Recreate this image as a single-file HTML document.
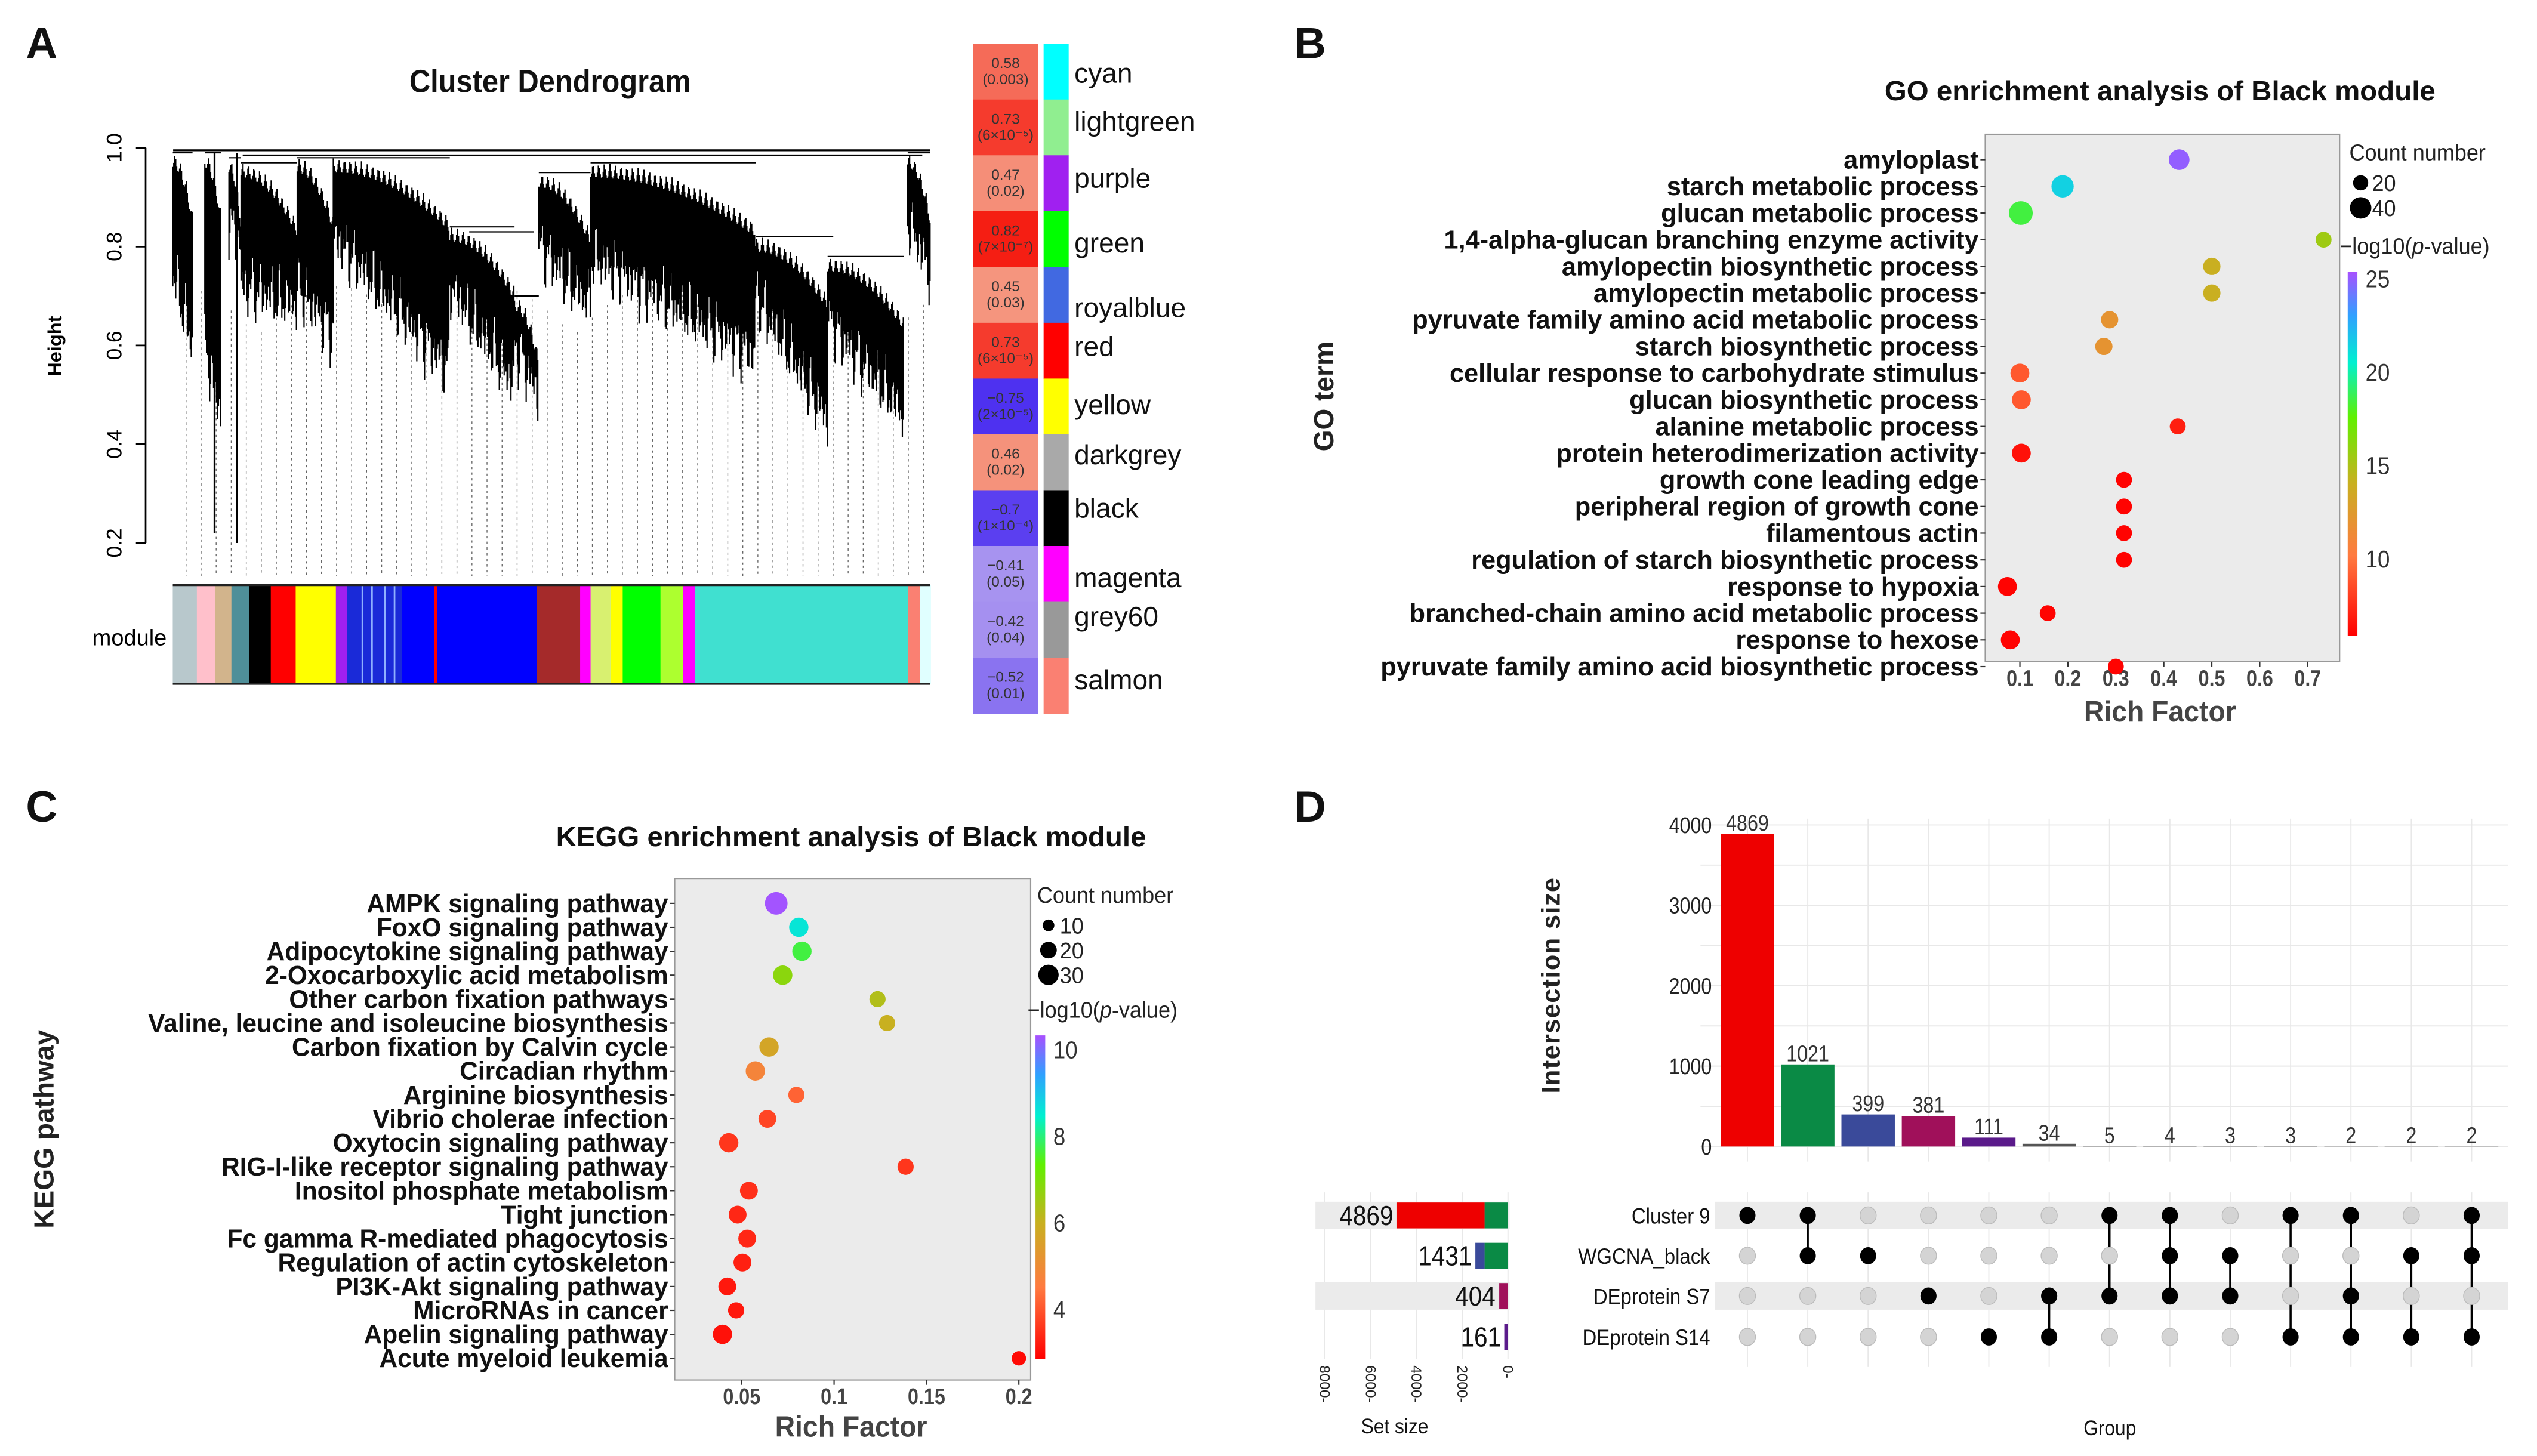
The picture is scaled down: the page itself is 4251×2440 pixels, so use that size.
<!DOCTYPE html>
<html><head><meta charset="utf-8"><title>Figure</title>
<style>
html,body{margin:0;padding:0;background:#fff;}
svg{display:block;font-family:"Liberation Sans",Arial,sans-serif;}
</style></head>
<body>
<svg id="fig" xmlns="http://www.w3.org/2000/svg" width="4251" height="2440" viewBox="0 0 1568 900" preserveAspectRatio="none">
  <defs>
    <linearGradient id="goGrad" x1="0" y1="1" x2="0" y2="0">
      <stop offset="0" stop-color="#ff0000"/><stop offset="0.22" stop-color="#ff7a40"/><stop offset="0.42" stop-color="#c8b020"/><stop offset="0.6" stop-color="#60f000"/><stop offset="0.75" stop-color="#00f0d0"/><stop offset="0.88" stop-color="#30a0ff"/><stop offset="1" stop-color="#a850ff"/>
    </linearGradient>
  </defs>
  <g id="panelA"></g>
  <g id="panelB"></g>
  <g id="panelC"></g>
  <g id="panelD"></g>
</svg>
<script>
// ---------- DATA ----------
const modNames = ["cyan","lightgreen","purple","green","royalblue","red","yellow","darkgrey","black","magenta","grey60","salmon"];
const modColors = ["#00ffff","#90ee90","#a020f0","#00ff00","#4169e1","#ff0000","#ffff00","#a9a9a9","#000000","#ff00ff","#999999","#fa8072"];
const modCorr = [0.58,0.73,0.47,0.82,0.45,0.73,-0.75,0.46,-0.7,-0.41,-0.42,-0.52];
const modP = ["(0.003)","(6×10⁻⁵)","(0.02)","(7×10⁻⁷)","(0.03)","(6×10⁻⁵)","(2×10⁻⁵)","(0.02)","(1×10⁻⁴)","(0.05)","(0.04)","(0.01)"];
const modLabelY = [45,75,110,150,190,214,250,281,314,357,381,420];

const goTerms = ["amyloplast","starch metabolic process","glucan metabolic process","1,4-alpha-glucan branching enzyme activity","amylopectin biosynthetic process","amylopectin metabolic process","pyruvate family amino acid metabolic process","starch biosynthetic process","cellular response to carbohydrate stimulus","glucan biosynthetic process","alanine metabolic process","protein heterodimerization activity","growth cone leading edge","peripheral region of growth cone","filamentous actin","regulation of starch biosynthetic process","response to hypoxia","branched-chain amino acid metabolic process","response to hexose","pyruvate family amino acid biosynthetic process"];
const goRich = [0.432,0.189,0.102,0.733,0.5,0.5,0.287,0.275,0.1,0.103,0.429,0.103,0.317,0.317,0.317,0.317,0.074,0.158,0.08,0.3];
const goCount = [37,43,49,22,26,26,26,26,31,31,22,31,22,22,22,22,31,22,31,22];
const goLogP = [25,21.5,18.5,15.5,14,14,12,12,9,9,7,6.5,6,6,6,6,6,6,6,6];
const goXTicks = [0.1,0.2,0.3,0.4,0.5,0.6,0.7];
const goCTicks = [10,15,20,25];
const goSizeTicks = [20,40];

const keggTerms = ["AMPK signaling pathway","FoxO signaling pathway","Adipocytokine signaling pathway","2-Oxocarboxylic acid metabolism","Other carbon fixation pathways","Valine, leucine and isoleucine biosynthesis","Carbon fixation by Calvin cycle","Circadian rhythm","Arginine biosynthesis","Vibrio cholerae infection","Oxytocin signaling pathway","RIG-I-like receptor signaling pathway","Inositol phosphate metabolism","Tight junction","Fc gamma R-mediated phagocytosis","Regulation of actin cytoskeleton","PI3K-Akt signaling pathway","MicroRNAs in cancer","Apelin signaling pathway","Acute myeloid leukemia"];
const keggRich = [0.0687,0.0809,0.0826,0.0722,0.1235,0.1287,0.0648,0.0574,0.0796,0.0639,0.043,0.1387,0.0539,0.0478,0.053,0.0504,0.0422,0.047,0.0396,0.2];
const keggCount = [37,27,27,27,19,19,27,27,19,23,27,19,23,23,23,23,23,19,27,15];
const keggLogP = [10.3,8.6,7.7,6.8,6.3,6.0,5.7,4.8,4.2,3.8,3.6,3.6,3.5,3.4,3.4,3.3,3.2,3.2,3.1,3.0];
const keggXTicks = [0.05,0.1,0.15,0.2];
const keggCTicks = [4,6,8,10];
const keggSizeTicks = [10,20,30];

const interHeights = [3890,1021,399,381,111,34,5,4,3,3,2,2,2];
const interLabels = ["4869","1021","399","381","111","34","5","4","3","3","2","2","2"];
const interColors = ["#ee0000","#0a8a45","#3a4a9a","#a0105a","#5a1a8a","#555","#555","#555","#555","#555","#555","#555","#555"];
const setNames = ["Cluster 9","WGCNA_black","DEprotein S7","DEprotein S14"];
const setSizes = [4869,1431,404,161];
const setSegVals = [[1021,3848],[1021,399,11],[381,23],[111,50]];
const setSegCols = [["#0a8a45","#ee0000"],["#0a8a45","#3a4a9a","#3a4a9a"],["#a0105a","#a0105a"],["#5a1a8a","#5a1a8a"]];
const membership = [[0],[0,1],[1],[2],[3],[2,3],[0,2],[0,1,2],[1,2],[0,3],[0,2,3],[1,3],[0,1,3]];
const interYTicks = [0,1000,2000,3000,4000];
const setXTicks = [8000,6000,4000,2000,0];

// ---------- HELPERS ----------
const NS="http://www.w3.org/2000/svg";
function mk(parent,tag,attrs,text){const e=document.createElementNS(NS,tag);for(const k in attrs)e.setAttribute(k,attrs[k]);if(text!==undefined)e.textContent=text;parent.appendChild(e);return e;}
function lerp(a,b,t){return a+(b-a)*t;}
const rbStops=[[0,[255,0,0]],[0.22,[255,122,64]],[0.42,[200,176,32]],[0.6,[96,240,0]],[0.75,[0,240,208]],[0.88,[48,160,255]],[1,[168,80,255]]];
function rainbow(t){t=Math.max(0,Math.min(1,t));for(let i=1;i<rbStops.length;i++){if(t<=rbStops[i][0]){const a=rbStops[i-1],b=rbStops[i];const u=(t-a[0])/(b[0]-a[0]);return "rgb("+[0,1,2].map(j=>Math.round(lerp(a[1][j],b[1][j],u))).join(",")+")";}}return "rgb(168,80,255)";}
function condText(parent,x,y,str,size,sx,anchor,weight,fill){const g=mk(parent,"g",{transform:"translate("+x+","+y+") scale("+sx+",1)"});const t=mk(g,"text",{x:0,y:0,"font-size":size,"text-anchor":anchor,"font-weight":weight,fill:fill||"#111"},str);return t;}

const fig=document.getElementById("fig");
[["A",16,36],["B",800,36],["C",16,508],["D",800,508]].forEach(l=>{
  const t=mk(fig,"text",{x:l[1],y:l[2],"font-size":27,"font-weight":"bold",fill:"#111"},l[0]);
  
  
});

// ---------- PANEL A ----------
(function(){
const A=document.getElementById("panelA");
const hy=h=>91.4+(1-h)*305.3;
const t1=condText(A,340,57,"Cluster Dendrogram",20,0.9,"middle","bold");


const ax=mk(A,"g",{});


mk(ax,"line",{x1:90,y1:hy(1),x2:90,y2:hy(0.2),stroke:"#000","stroke-width":1});
[0.2,0.4,0.6,0.8,1.0].forEach(v=>{
  mk(ax,"line",{x1:84,y1:hy(v),x2:90,y2:hy(v),stroke:"#000","stroke-width":1});
  mk(ax,"text",{x:0,y:0,"font-size":13,"text-anchor":"middle",transform:"translate(75,"+hy(v)+") rotate(-90)"},v.toFixed(1));
});
const ht=mk(A,"text",{x:0,y:0,"font-size":12,"font-weight":"bold","text-anchor":"middle",transform:"translate(38,214) rotate(-90)"},"Height");


const dots=mk(A,"g",{stroke:"#666","stroke-width":0.5,"stroke-dasharray":"1.5,2"});


for(let x=115;x<572;x+=9.3){const top=0.62+0.1*Math.abs(Math.sin(x*0.37));mk(dots,"line",{x1:x,y1:hy(top),x2:x,y2:356});}
const den=mk(A,"g",{stroke:"#000","stroke-width":0.8});


const clusters=[[106.8,119,0.99,0.75,0.6],[126.6,136.6,0.99,0.6,0.45],[141.5,149,0.98,0.85,0.8],[149,183.7,0.97,0.72,0.68],[183.7,206,0.98,0.72,0.62],[206,278,0.98,0.82,0.55],[278,318,0.84,0.72,0.52],[318,333,0.7,0.6,0.5],[333,365,0.95,0.8,0.68],[365,467,0.97,0.78,0.58],[467,511.5,0.82,0.7,0.45],[511.5,558.7,0.78,0.65,0.46],[561,575,0.99,0.85,0.75]];
clusters.forEach(c=>{for(let x=c[0];x<=c[1];x+=0.6){const u=(x-c[0])/(c[1]-c[0]);
  const top=c[2]-0.12*u*u-0.03*Math.abs(Math.sin(x*0.9));
  let b=lerp(c[3],c[4],u)+0.05*Math.sin(x*1.3)*Math.sin(x*0.21)+0.03*Math.sin(x*2.7);
  mk(den,"line",{x1:x,y1:hy(top),x2:x,y2:hy(Math.min(b,top-0.02))});}
  mk(den,"line",{x1:c[0],y1:hy(c[2]),x2:c[1],y2:hy(c[2])});});
mk(den,"line",{x1:132.6,y1:hy(0.99),x2:132.6,y2:hy(0.22),"stroke-width":1.2});
mk(den,"line",{x1:146.5,y1:hy(0.99),x2:146.5,y2:hy(0.2),"stroke-width":1});
mk(den,"line",{x1:107,y1:hy(0.995),x2:575,y2:hy(0.995),"stroke-width":1.2});
mk(den,"line",{x1:150,y1:hy(0.985),x2:570,y2:hy(0.985),"stroke-width":1});
mk(den,"line",{x1:290,y1:hy(0.83),x2:330,y2:hy(0.83)});
mk(den,"line",{x1:470,y1:hy(0.82),x2:515,y2:hy(0.82)});
const mb=mk(A,"g",{});


const segs=[[215,245,"#b8c8cc"],[245,268,"#ffc0cb"],[268,288,"#d2b48c"],[288,310,"#4f8f99"],[310,337,"#000"],[337,368,"#ff0000"],[368,418,"#ffff00"],[418,432,"#a020f0"],[432,500,"#1a2ad8"],[500,540,"#0000ff"],[540,544,"#ff0000"],[544,668,"#0000ff"],[668,722,"#a52a2a"],[722,735,"#ff00ff"],[735,760,"#d8f070"],[760,775,"#ffff00"],[775,822,"#00ff00"],[822,850,"#adff2f"],[850,865,"#ff00ff"],[865,1130,"#40e0d0"],[1130,1145,"#fa8072"],[1145,1158,"#e0ffff"]];
segs.forEach(s=>mk(mb,"rect",{x:s[0]*0.4966,y:361.7,width:(s[1]-s[0])*0.4966+0.3,height:61,fill:s[2]}));
[450,462,478,490].forEach(x=>mk(mb,"rect",{x:x*0.4966,y:361.7,width:1,height:61,fill:"#8fb0ff"}));
mk(mb,"line",{x1:106.8,y1:361.7,x2:575,y2:361.7,stroke:"#222","stroke-width":1.2});
mk(mb,"line",{x1:106.8,y1:422.7,x2:575,y2:422.7,stroke:"#222","stroke-width":1.2});
const ml=mk(A,"text",{x:103,y:399,"font-size":14,"text-anchor":"end"},"module");


const rowH=(441-27)/12;
modNames.forEach((n,i)=>{
  const g=mk(A,"g",{});
  
  
  const v=modCorr[i];let col;
  if(v>0){const t=(v-0.4)/0.45;col="rgb(245,"+Math.round(lerp(165,20,t))+","+Math.round(lerp(140,10,t))+")";}
  else{const t=(-v-0.4)/0.38;col="rgb("+Math.round(lerp(170,70,t))+","+Math.round(lerp(150,40,t))+",240)";}
  mk(g,"rect",{x:601.5,y:27+i*rowH,width:40,height:rowH+0.2,fill:col});
  mk(g,"rect",{x:645,y:27+i*rowH,width:15.5,height:rowH+0.2,fill:modColors[i]});
  mk(g,"text",{x:621.5,y:27+i*rowH+15,"font-size":9,"text-anchor":"middle",fill:"#333"},(v<0?"−":"")+Math.abs(v));
  mk(g,"text",{x:621.5,y:27+i*rowH+25,"font-size":9,"text-anchor":"middle",fill:"#333"},modP[i]);
  mk(g,"text",{x:664,y:modLabelY[i]+6,"font-size":17,fill:"#111"},n);
});
})();

// ---------- DOT PLOT BUILDER ----------
function dotPlot(P,o){
  const xs=v=>o.x0+(v-o.v0)*o.k;
  const rect=mk(P,"rect",{x:o.px1,y:o.py1,width:o.px2-o.px1,height:o.py2-o.py1,fill:"#ebebeb",stroke:"#999","stroke-width":0.8});
  
  
  const tt=condText(P,o.titleX,o.titleY,o.title,17,1.03,"middle","bold");
  
  
  o.terms.forEach((t,i)=>{
    const y=o.r0+i*o.step;
    mk(P,"line",{x1:o.px1-3,y1:y,x2:o.px1,y2:y,stroke:"#333","stroke-width":0.8});
    const lb=condText(P,o.px1-4,y+5.5,t,o.fs,o.sx,"end","bold");
    
    
  });
  o.xt.forEach(v=>{
    mk(P,"line",{x1:xs(v),y1:o.py2,x2:xs(v),y2:o.py2+3,stroke:"#333","stroke-width":0.8});
    const tl=condText(P,xs(v),o.py2+15,String(v),14,0.85,"middle","bold","#444");
    
    
  });
  const xt=condText(P,o.xtitleX,o.xtitleY,"Rich Factor",18,0.95,"middle","bold","#444");
  
  
  const yt=mk(P,"text",{x:0,y:0,"font-size":17,"font-weight":"bold","text-anchor":"middle",transform:"translate("+o.ytX+","+o.ytY+") rotate(-90)",fill:"#222"},o.ytitle);
  
  
  o.terms.forEach((t,i)=>{
    const c=mk(P,"circle",{cx:xs(o.rich[i]),cy:o.r0+i*o.step,r:o.rk*Math.sqrt(o.count[i]),fill:rainbow((o.lp[i]-o.cmin)/(o.cmax-o.cmin))});
    
    
  });
  const lgS=mk(P,"g",{});
  
  
  condText(lgS,o.lx,o.ly,"Count number",14,0.95,"start","normal","#222");
  o.st.forEach((s,i)=>{const y=o.ly+14+i*o.lstep;mk(lgS,"circle",{cx:o.lx+7,cy:y,r:o.rk*Math.sqrt(s),fill:"#000"});condText(lgS,o.lx+14,y+5,String(s),14,0.95,"start","normal","#222");});
  const lgC=mk(P,"g",{});
  
  
  const ct=mk(lgC,"text",{x:o.lx-6,y:o.cly,"font-size":14,fill:"#222"});
  ct.setAttribute('transform',"translate("+(o.lx-6)+",0) scale(0.95,1) translate("+(-(o.lx-6))+",0)");
  ct.appendChild(document.createTextNode("−log10("));
  mk(ct,"tspan",{"font-style":"italic"},"p");
  ct.appendChild(document.createTextNode("-value)"));
  mk(lgC,"rect",{x:o.lx-1,y:o.cb1,width:6,height:o.cb2-o.cb1,fill:"url(#goGrad)"});
  const cy=v=>o.cb2-(v-o.cmin)/(o.cmax-o.cmin)*(o.cb2-o.cb1);
  o.ct.forEach(v=>condText(lgC,o.lx+10,cy(v)+5,String(v),15,0.9,"start","normal","#333"));
}

dotPlot(document.getElementById("panelB"),{id:"go",px1:1227,px2:1446,py1:83,py2:409,r0:98.7,step:16.49,x0:1248.4,v0:0.1,k:296.5,
  terms:goTerms,rich:goRich,count:goCount,lp:goLogP,fs:16,sx:1.0,rk:1.05,cmin:5.9,cmax:25.4,xt:goXTicks,st:goSizeTicks,ct:goCTicks,
  title:"GO enrichment analysis of Black module",titleX:1335,titleY:62,xtitleX:1335,xtitleY:446,ytitle:"GO term",ytX:824,ytY:245,
  lx:1452,ly:99,lstep:15.5,cly:157,cb1:168,cb2:393});

dotPlot(document.getElementById("panelC"),{id:"kegg",px1:417,px2:637,py1:543,py2:853,r0:558.4,step:14.8,x0:458.4,v0:0.05,k:1142,
  terms:keggTerms,rich:keggRich,count:keggCount,lp:keggLogP,fs:16,sx:0.98,rk:1.15,cmin:2.87,cmax:10.34,xt:keggXTicks,st:keggSizeTicks,ct:keggCTicks,
  title:"KEGG enrichment analysis of Black module",titleX:526,titleY:523,xtitleX:526,xtitleY:888,ytitle:"KEGG pathway",ytX:33,ytY:698,
  lx:641,ly:558,lstep:15.3,cly:629,cb1:640,cb2:840});

// ---------- PANEL D ----------
(function(){
const D=document.getElementById("panelD");
const colX=i=>1080+i*37.3;
const by=v=>708.7-v*0.0497;
const rowY=[751.3,776.2,801.1,826.4];
const sx=v=>932-v*0.01415;
const grid=mk(D,"g",{stroke:"#e8e8e8","stroke-width":0.7});


for(let v=0;v<=4000;v+=500)mk(grid,"line",{x1:1051,y1:by(v),x2:1550,y2:by(v)});
interHeights.forEach((h,i)=>{mk(grid,"line",{x1:colX(i),y1:506,x2:colX(i),y2:718});mk(grid,"line",{x1:colX(i),y1:737,x2:colX(i),y2:845});});
setXTicks.forEach(v=>mk(grid,"line",{x1:sx(v),y1:737,x2:sx(v),y2:840}));
[0,2].forEach(r=>{const b=mk(D,"rect",{x:1060,y:rowY[r]-8.5,width:490,height:17,fill:"#ebebeb"});


const b2=mk(D,"rect",{x:813,y:rowY[r]-8.5,width:120,height:17,fill:"#ebebeb"});

});
interYTicks.forEach(v=>{const t=condText(D,1058,by(v)+5,String(v),14,0.85,"end","normal","#222");

});
const yt=mk(D,"text",{x:0,y:0,"font-size":16,"font-weight":"bold","text-anchor":"middle","letter-spacing":"0.5",transform:"translate(964,609) rotate(-90)",fill:"#222"},"Intersection size");


interHeights.forEach((h,i)=>{
  const r=mk(D,"rect",{x:colX(i)-16.5,y:by(h),width:33,height:708.7-by(h),fill:interColors[i]});
  
  
  const t=condText(D,colX(i),by(h)-2,interLabels[i],14,0.85,"middle","normal","#333");
  
  
});
membership.forEach((m,i)=>{
  const g=mk(D,"g",{});
  
  
  if(m.length>1)mk(g,"line",{x1:colX(i),y1:rowY[Math.min(...m)],x2:colX(i),y2:rowY[Math.max(...m)],stroke:"#000","stroke-width":1.3});
  rowY.forEach((y,r)=>{const on=m.includes(r);mk(g,"ellipse",{cx:colX(i),cy:y,rx:5,ry:5.3,fill:on?"#000":"#d4d4d4",stroke:on?"none":"#bbb","stroke-width":0.5});});
});
setNames.forEach((n,r)=>{const t=condText(D,1057,rowY[r]+5,n,13.5,0.9,"end","normal","#111");

});
setSizes.forEach((s,r)=>{
  let acc=0;
  setSegVals[r].forEach((v,j)=>{const x=sx(acc+v);const re=mk(D,"rect",{x:x,y:rowY[r]-8,width:sx(acc)-x,height:16,fill:setSegCols[r][j]});
  
  
  acc+=v;});
  const t=condText(D,sx(s)-2,rowY[r]+6,String(s),17,0.88,"end","normal","#111");
  
  
});
setXTicks.forEach(v=>{const t=mk(D,"text",{x:0,y:0,"font-size":9,transform:"translate("+(sx(v)-3)+",844) rotate(90)",fill:"#222"},v+"-");

});
const ss=condText(D,862,886,"Set size",13,0.9,"middle","normal","#111");


const gr=condText(D,1304,887,"Group",13,0.9,"middle","normal","#111");


})();
</script>
</body></html>
